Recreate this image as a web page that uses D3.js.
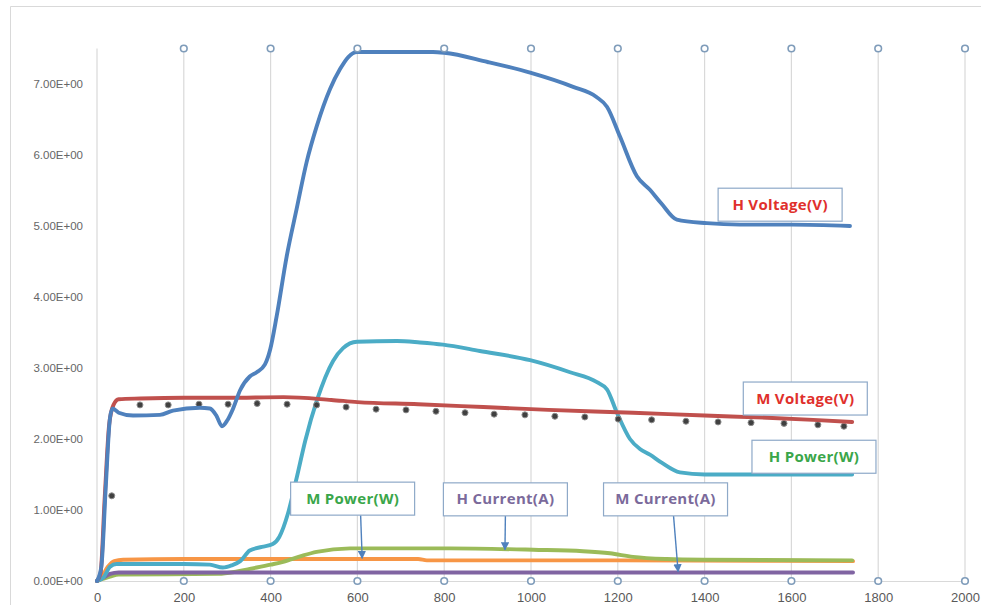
<!DOCTYPE html>
<html><head><meta charset="utf-8">
<script src="https://cdn.jsdelivr.net/npm/d3@7"></script>
<style>
html,body{margin:0;padding:0;background:#fff;}
svg{display:block;}
</style></head>
<body>
<svg id="chart" width="981" height="605"></svg>
<script>
// ---- data ----
const xTicks = [0,200,400,600,800,1000,1200,1400,1600,1800,2000];
const yTicks = [0,1,2,3,4,5,6,7];
const yTickLabels = ["0.00E+00","1.00E+00","2.00E+00","3.00E+00","4.00E+00","5.00E+00","6.00E+00","7.00E+00"];

const hVoltage = [[0,0],[10,0.2],[20,1.3],[30,2.3],[36,2.43],[50,2.37],[83,2.33],[145,2.34],[175,2.4],[237,2.44],[260,2.43],[275,2.33],[288,2.18],[300,2.26],[313,2.42],[330,2.69],[352,2.88],[368,2.94],[387,3.05],[399,3.26],[414,3.73],[437,4.57],[460,5.24],[483,5.9],[506,6.4],[537,6.93],[560,7.21],[579,7.38],[599,7.45],[700,7.45],[774,7.45],[800,7.44],[900,7.31],[998,7.16],[1097,6.96],[1150,6.82],[1175,6.68],[1205,6.26],[1244,5.7],[1274,5.51],[1300,5.32],[1336,5.09],[1405,5.04],[1481,5.02],[1600,5.02],[1735,5.0]];
const hPower = [[0,0],[15,0.05],[30,0.2],[45,0.24],[100,0.24],[200,0.24],[260,0.23],[290,0.19],[310,0.22],[330,0.28],[352,0.43],[380,0.48],[405,0.52],[420,0.62],[440,0.95],[460,1.45],[480,1.98],[507,2.55],[544,3.1],[567,3.28],[599,3.37],[691,3.38],[744,3.36],[797,3.33],[882,3.24],[998,3.11],[1090,2.94],[1152,2.8],[1175,2.7],[1198,2.37],[1228,2.0],[1251,1.86],[1274,1.78],[1300,1.67],[1343,1.53],[1400,1.5],[1500,1.5],[1740,1.5]];
const mVoltage = [[0,0],[8,0.1],[18,1.2],[28,2.2],[38,2.48],[50,2.56],[100,2.57],[200,2.58],[300,2.58],[430,2.59],[540,2.55],[600,2.52],[740,2.49],[890,2.45],[1040,2.41],[1235,2.37],[1400,2.33],[1544,2.3],[1650,2.27],[1740,2.24]];
const greenSeries = [[0,0],[30,0.06],[50,0.09],[280,0.1],[320,0.13],[352,0.17],[400,0.23],[429,0.27],[470,0.35],[506,0.41],[583,0.46],[700,0.46],[813,0.46],[1005,0.44],[1120,0.42],[1182,0.39],[1235,0.34],[1313,0.31],[1400,0.3],[1740,0.29]];
const orangeSeries = [[0,0],[10,0.05],[25,0.2],[40,0.28],[60,0.3],[200,0.31],[740,0.31],[760,0.29],[1200,0.29],[1742,0.28]];
const purpleSeries = [[0,0],[10,0.03],[30,0.1],[50,0.12],[1742,0.12]];
const dotX = [34,99,164,235,302,369,438,506,574,643,712,781,848,915,986,1055,1124,1201,1278,1357,1431,1507,1583,1661,1721];
const dotY = [1.2,2.48,2.48,2.49,2.49,2.5,2.49,2.48,2.45,2.42,2.41,2.39,2.37,2.35,2.34,2.32,2.31,2.28,2.27,2.25,2.24,2.23,2.22,2.2,2.18];

const calloutLabels = ["H Voltage(V)","M Voltage(V)","H Power(W)","M Power(W)","H Current(A)","M Current(A)"];
const calloutX = [1574,1632,1652,589,941,1310];
const calloutY = [5.30,2.57,1.75,1.16,1.15,1.15];
const arrowToX = [null,null,null,611,940,1339];
const arrowToY = [null,null,null,0.32,0.44,0.13];

// ---- drawing ----
const svg = d3.select("#chart");
const x = d3.scaleLinear().domain([0,2000]).range([97,965]);
const y = d3.scaleLinear().domain([0,7.5]).range([581,48.5]);

// chart frame
svg.append("path").attr("d","M10.5,606 L10.5,6.5 L990,6.5").attr("fill","none").attr("stroke","#d9d9d9").attr("stroke-width",1);

// vertical gridlines
const grid = svg.append("g");
xTicks.forEach(t=>{
  grid.append("line").attr("x1",x(t)).attr("x2",x(t)).attr("y1",y(0)).attr("y2",y(7.5))
    .attr("stroke","#d9d9d9").attr("stroke-width",1.2);
});
// bottom axis
const xAxis = d3.axisBottom(x).tickValues(xTicks).tickSize(0).tickPadding(12).tickFormat(d3.format("d"));
const gx = svg.append("g").attr("transform",`translate(0,${y(0)})`).call(xAxis);
gx.select(".domain").attr("stroke","#d9d9d9").attr("stroke-width",1.2);
gx.selectAll("text").attr("fill","#595959").style("font-family","Liberation Sans, Arial, sans-serif").style("font-size","13px");

const yAxis = d3.axisLeft(y).tickValues(yTicks).tickSize(0).tickPadding(14).tickFormat((d,i)=>yTickLabels[i]);
const gy = svg.append("g").attr("transform",`translate(${x(0)},0)`).call(yAxis);
gy.select(".domain").remove();
gy.selectAll("text").attr("fill","#666").style("font-family","Liberation Sans, Arial, sans-serif").style("font-size","11.5px");

// series
const line = d3.line().x(d=>x(d[0])).y(d=>y(d[1])).curve(d3.curveMonotoneX);
const series = [
  {d:orangeSeries,c:"#f79646"},
  {d:greenSeries,c:"#9bbb59"},
  {d:purpleSeries,c:"#8064a2"},
  {d:hPower,c:"#4bacc6"},
  {d:mVoltage,c:"#c0504d"},
  {d:hVoltage,c:"#4f81bd"}
];
const dots = dotX.map((v,i)=>[v,dotY[i]]);
series.forEach((s,i)=>{
  if(s.d===mVoltage){
    svg.append("g").selectAll("circle").data(dots).join("circle")
      .attr("cx",d=>x(d[0])).attr("cy",d=>y(d[1])).attr("r",3)
      .attr("fill","#404040").attr("stroke","#8c8c8c").attr("stroke-width",1);
  }
  svg.append("path").datum(s.d).attr("d",line).attr("fill","none")
    .attr("stroke",s.c).attr("stroke-width",3.9).attr("stroke-linejoin","round").attr("stroke-linecap","round");
});

// circle markers at gridline ends
xTicks.filter(t=>t>0).forEach(t=>{
  [0,7.5].forEach(v=>{
    svg.append("circle").attr("cx",x(t)).attr("cy",y(v)).attr("r",3.3)
      .attr("fill","#fff").attr("stroke","#7f9cba").attr("stroke-width",1.6);
  });
});

// callouts
const defs = svg.append("defs");
defs.append("marker").attr("id","arr").attr("viewBox","0 0 10 10").attr("refX",9).attr("refY",5)
  .attr("markerWidth",6).attr("markerHeight",6).attr("orient","auto")
  .append("path").attr("d","M0,0 L10,5 L0,10 z").attr("fill","#4f81bd");
const textColors = {"H Voltage(V)":"#e0302c","M Voltage(V)":"#e0302c","H Power(W)":"#3aa64a","M Power(W)":"#3aa64a","H Current(A)":"#7b6a9b","M Current(A)":"#7b6a9b"};
const bw=124, bh=33;
calloutLabels.forEach((lab,i)=>{
  const cx=x(calloutX[i]), cy=y(calloutY[i]);
  if(arrowToX[i]!==null){
    svg.append("line").attr("x1",x(arrowToX[i]) > cx+5 ? cx+8 : cx).attr("y1",cy+bh/2)
      .attr("x2",x(arrowToX[i])).attr("y2",y(arrowToY[i]))
      .attr("stroke","#4f81bd").attr("stroke-width",1.4).attr("marker-end","url(#arr)");
  }
  svg.append("rect").attr("x",cx-bw/2).attr("y",cy-bh/2).attr("width",bw).attr("height",bh)
    .attr("fill","#fff").attr("stroke","#8ea9c8").attr("stroke-width",1.2);
  svg.append("text").attr("x",cx).attr("y",cy+5).attr("text-anchor","middle")
    .attr("fill",textColors[lab]).style("font-family","Open Sans, Liberation Sans, sans-serif")
    .style("font-weight","bold").style("font-size","15px").style("letter-spacing","0.3px").text(lab);
});
</script>
</body></html>
